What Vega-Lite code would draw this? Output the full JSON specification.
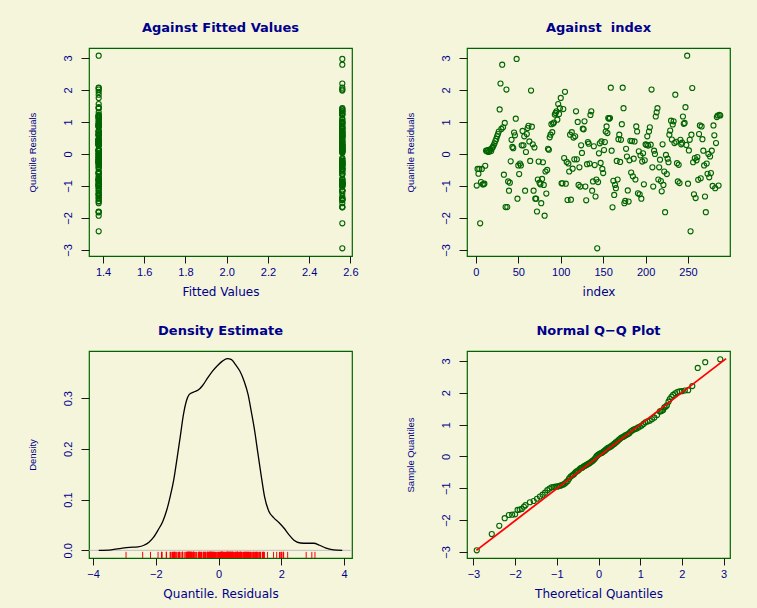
{
"$schema": "https://vega.github.io/schema/vega-lite/v6.json",
"background": "#F5F5DC",
"padding": {"left": 26, "top": 21, "right": 30, "bottom": 10},
"datasets": {
"res": [
{"i":1,"r":-0.99,"f":2.561},{"i":2,"r":-0.47,"f":2.561},{"i":3,"r":-0.62,"f":2.561},{"i":4,"r":-0.47,"f":2.561},{"i":5,"r":-2.17,"f":2.561},{"i":6,"r":-0.88,"f":2.561},{"i":7,"r":-0.47,"f":2.561},{"i":8,"r":-0.95,"f":2.561},{"i":9,"r":-0.95,"f":2.561},{"i":10,"r":-0.93,"f":2.561},
{"i":11,"r":-0.37,"f":2.561},{"i":12,"r":0.10,"f":2.561},{"i":13,"r":0.08,"f":2.561},{"i":14,"r":0.12,"f":2.561},{"i":15,"r":0.06,"f":2.561},{"i":16,"r":0.10,"f":2.561},{"i":17,"r":0.14,"f":2.561},{"i":18,"r":0.09,"f":2.561},{"i":19,"r":0.18,"f":2.561},{"i":20,"r":0.22,"f":2.561},
{"i":21,"r":0.27,"f":2.561},{"i":22,"r":0.33,"f":2.561},{"i":23,"r":0.40,"f":2.561},{"i":24,"r":0.47,"f":2.561},{"i":25,"r":0.55,"f":2.561},{"i":26,"r":0.62,"f":2.561},{"i":27,"r":0.70,"f":2.561},{"i":28,"r":1.39,"f":2.561},{"i":29,"r":2.20,"f":2.561},{"i":30,"r":0.78,"f":2.561},
{"i":31,"r":2.79,"f":2.561},{"i":32,"r":0.83,"f":2.561},{"i":33,"r":-0.65,"f":2.561},{"i":34,"r":0.97,"f":2.561},{"i":35,"r":-1.66,"f":2.561},{"i":36,"r":2.01,"f":2.561},{"i":37,"r":-1.66,"f":2.561},{"i":38,"r":-0.86,"f":2.561},{"i":39,"r":-1.15,"f":2.561},{"i":40,"r":-0.90,"f":2.561},
{"i":41,"r":-0.23,"f":2.561},{"i":42,"r":0.44,"f":2.561},{"i":43,"r":0.22,"f":2.561},{"i":44,"r":0.18,"f":2.561},{"i":45,"r":0.67,"f":2.561},{"i":46,"r":0.58,"f":2.561},{"i":47,"r":1.10,"f":2.561},{"i":48,"r":2.97,"f":2.561},{"i":49,"r":-1.40,"f":2.561},{"i":50,"r":-0.36,"f":2.561},
{"i":51,"r":-0.63,"f":2.561},{"i":52,"r":-0.30,"f":2.561},{"i":53,"r":-0.36,"f":2.561},{"i":54,"r":0.27,"f":2.561},{"i":55,"r":0.72,"f":2.561},{"i":56,"r":0.27,"f":2.561},{"i":57,"r":0.55,"f":2.561},{"i":58,"r":-1.15,"f":2.561},{"i":59,"r":0.06,"f":2.561},{"i":60,"r":0.62,"f":2.561},
{"i":61,"r":0.81,"f":2.561},{"i":62,"r":0.88,"f":2.561},{"i":63,"r":0.39,"f":2.561},{"i":64,"r":-0.22,"f":2.561},{"i":65,"r":1.98,"f":2.561},{"i":66,"r":0.85,"f":2.561},{"i":67,"r":0.30,"f":2.561},{"i":68,"r":-1.15,"f":2.561},{"i":69,"r":0.20,"f":2.561},{"i":70,"r":-1.40,"f":2.561},
{"i":71,"r":-1.40,"f":2.561},{"i":72,"r":-1.80,"f":1.379},{"i":73,"r":-0.80,"f":2.561},{"i":74,"r":-0.24,"f":2.561},{"i":75,"r":-0.90,"f":2.561},{"i":76,"r":-0.95,"f":2.561},{"i":77,"r":-1.54,"f":2.561},{"i":78,"r":-0.78,"f":2.561},{"i":79,"r":-0.26,"f":2.561},{"i":80,"r":-0.97,"f":2.561},
{"i":81,"r":-1.93,"f":1.379},{"i":82,"r":-0.55,"f":2.561},{"i":83,"r":-1.24,"f":2.561},{"i":84,"r":-0.50,"f":2.561},{"i":85,"r":0.16,"f":2.561},{"i":86,"r":0.13,"f":2.561},{"i":87,"r":0.52,"f":2.561},{"i":88,"r":0.60,"f":2.561},{"i":89,"r":0.93,"f":2.561},{"i":90,"r":0.68,"f":2.561},
{"i":91,"r":0.95,"f":2.561},{"i":92,"r":0.98,"f":2.561},{"i":93,"r":1.23,"f":2.561},{"i":94,"r":1.28,"f":2.561},{"i":95,"r":1.33,"f":2.561},{"i":96,"r":1.07,"f":2.561},{"i":97,"r":1.56,"f":1.379},{"i":98,"r":1.25,"f":2.561},{"i":99,"r":1.43,"f":2.561},{"i":100,"r":1.75,"f":1.379},
{"i":101,"r":-0.92,"f":2.561},{"i":102,"r":-0.92,"f":2.561},{"i":103,"r":1.40,"f":2.561},{"i":104,"r":-0.13,"f":2.561},{"i":105,"r":1.94,"f":1.379},{"i":106,"r":-0.93,"f":2.561},{"i":107,"r":-0.25,"f":2.561},{"i":108,"r":-1.44,"f":2.561},{"i":109,"r":-0.30,"f":2.561},{"i":110,"r":-0.55,"f":2.561},
{"i":111,"r":0.60,"f":2.561},{"i":112,"r":-1.43,"f":2.561},{"i":113,"r":0.68,"f":2.561},{"i":114,"r":-0.46,"f":2.561},{"i":115,"r":0.51,"f":2.561},{"i":116,"r":-0.17,"f":2.561},{"i":117,"r":0.55,"f":2.561},{"i":118,"r":1.33,"f":2.561},{"i":119,"r":-0.17,"f":2.561},{"i":120,"r":1.00,"f":2.561},
{"i":121,"r":-0.97,"f":2.561},{"i":122,"r":-0.42,"f":2.561},{"i":123,"r":-1.02,"f":2.561},{"i":124,"r":0.27,"f":2.561},{"i":125,"r":0.03,"f":2.561},{"i":126,"r":0.79,"f":2.561},{"i":127,"r":0.77,"f":2.561},{"i":128,"r":1.02,"f":2.561},{"i":129,"r":-1.02,"f":2.561},{"i":130,"r":-1.45,"f":2.561},
{"i":131,"r":-0.32,"f":2.561},{"i":132,"r":0.37,"f":2.561},{"i":133,"r":0.32,"f":2.561},{"i":134,"r":-0.30,"f":2.561},{"i":135,"r":1.22,"f":2.561},{"i":136,"r":1.33,"f":2.561},{"i":137,"r":-1.15,"f":2.561},{"i":138,"r":-0.86,"f":2.561},{"i":139,"r":0.24,"f":2.561},{"i":140,"r":-0.35,"f":2.561},
{"i":141,"r":-1.33,"f":2.561},{"i":142,"r":-0.80,"f":2.561},{"i":143,"r":-2.95,"f":2.561},{"i":144,"r":-0.88,"f":2.561},{"i":145,"r":0.02,"f":1.379},{"i":146,"r":0.33,"f":1.379},{"i":147,"r":-0.28,"f":1.379},{"i":148,"r":0.39,"f":1.379},{"i":149,"r":-0.47,"f":1.379},{"i":150,"r":-0.60,"f":1.379},
{"i":151,"r":0.12,"f":1.379},{"i":152,"r":0.37,"f":1.379},{"i":153,"r":0.70,"f":1.379},{"i":154,"r":0.86,"f":1.379},{"i":155,"r":0.65,"f":1.379},{"i":156,"r":1.12,"f":1.379},{"i":157,"r":1.10,"f":1.379},{"i":158,"r":1.12,"f":1.379},{"i":159,"r":2.07,"f":2.561},{"i":160,"r":0.10,"f":1.379},
{"i":161,"r":-1.67,"f":2.561},{"i":162,"r":-0.84,"f":1.379},{"i":163,"r":-1.28,"f":1.379},{"i":164,"r":-0.97,"f":1.379},{"i":165,"r":-1.07,"f":1.379},{"i":166,"r":-0.22,"f":1.379},{"i":167,"r":-0.80,"f":1.379},{"i":168,"r":0.46,"f":1.379},{"i":169,"r":0.60,"f":1.379},{"i":170,"r":-0.25,"f":1.379},
{"i":171,"r":0.44,"f":1.379},{"i":172,"r":0.93,"f":1.379},{"i":173,"r":2.07,"f":1.379},{"i":174,"r":1.43,"f":1.379},{"i":175,"r":-1.54,"f":1.379},{"i":176,"r":-1.47,"f":1.379},{"i":177,"r":0.16,"f":1.379},{"i":178,"r":-0.08,"f":1.379},{"i":179,"r":-1.14,"f":1.379},{"i":180,"r":-1.49,"f":1.379},
{"i":181,"r":-0.20,"f":1.379},{"i":182,"r":0.41,"f":1.379},{"i":183,"r":-0.58,"f":1.379},{"i":184,"r":0.40,"f":1.379},{"i":185,"r":-0.70,"f":1.379},{"i":186,"r":-0.15,"f":1.379},{"i":187,"r":0.39,"f":1.379},{"i":188,"r":-0.80,"f":1.379},{"i":189,"r":0.86,"f":1.379},{"i":190,"r":0.70,"f":1.379},
{"i":191,"r":-1.23,"f":1.379},{"i":192,"r":0.08,"f":1.379},{"i":193,"r":-1.26,"f":1.379},{"i":194,"r":-0.05,"f":1.379},{"i":195,"r":-1.40,"f":1.379},{"i":196,"r":-0.24,"f":1.379},{"i":197,"r":0.02,"f":1.379},{"i":198,"r":-0.95,"f":1.379},{"i":199,"r":-0.20,"f":1.379},{"i":200,"r":0.30,"f":1.379},
{"i":201,"r":0.28,"f":1.379},{"i":202,"r":0.55,"f":1.379},{"i":203,"r":0.26,"f":1.379},{"i":204,"r":0.70,"f":1.379},{"i":205,"r":0.83,"f":1.379},{"i":206,"r":0.29,"f":1.379},{"i":207,"r":2.01,"f":1.379},{"i":208,"r":-0.42,"f":1.379},{"i":209,"r":-1.02,"f":1.379},{"i":210,"r":0.10,"f":1.379},
{"i":211,"r":0.00,"f":1.379},{"i":212,"r":1.17,"f":1.379},{"i":213,"r":1.30,"f":1.379},{"i":214,"r":1.43,"f":1.379},{"i":215,"r":-0.80,"f":1.379},{"i":216,"r":-0.42,"f":1.379},{"i":217,"r":-0.18,"f":1.379},{"i":218,"r":-0.85,"f":1.379},{"i":219,"r":-1.17,"f":1.379},{"i":220,"r":0.30,"f":1.379},
{"i":221,"r":-0.97,"f":1.379},{"i":222,"r":-0.55,"f":1.379},{"i":223,"r":-1.82,"f":1.379},{"i":224,"r":-0.03,"f":1.379},{"i":225,"r":-0.63,"f":1.379},{"i":226,"r":-0.15,"f":1.379},{"i":227,"r":-0.26,"f":1.379},{"i":228,"r":0.60,"f":1.379},{"i":229,"r":0.73,"f":1.379},{"i":230,"r":1.04,"f":1.379},
{"i":231,"r":0.45,"f":1.379},{"i":232,"r":0.92,"f":1.379},{"i":233,"r":1.02,"f":1.379},{"i":234,"r":0.34,"f":1.379},{"i":235,"r":1.85,"f":1.379},{"i":236,"r":0.38,"f":1.379},{"i":237,"r":-0.29,"f":1.379},{"i":238,"r":-0.86,"f":1.379},{"i":239,"r":-0.34,"f":1.379},{"i":240,"r":-0.91,"f":1.379},
{"i":241,"r":0.44,"f":1.379},{"i":242,"r":0.30,"f":1.379},{"i":243,"r":0.35,"f":1.379},{"i":244,"r":1.17,"f":1.379},{"i":245,"r":0.94,"f":1.379},{"i":246,"r":0.97,"f":1.379},{"i":247,"r":1.46,"f":1.379},{"i":248,"r":0.28,"f":1.379},{"i":249,"r":3.07,"f":1.379},{"i":250,"r":-0.93,"f":1.379},
{"i":251,"r":0.11,"f":1.379},{"i":252,"r":0.44,"f":1.379},{"i":253,"r":-2.42,"f":1.379},{"i":254,"r":0.60,"f":1.379},{"i":255,"r":2.06,"f":1.379},{"i":256,"r":-0.26,"f":1.379},{"i":257,"r":-1.26,"f":1.379},{"i":258,"r":-0.13,"f":1.379},{"i":259,"r":-1.38,"f":1.379},{"i":260,"r":-0.20,"f":1.379},
{"i":261,"r":-0.10,"f":1.379},{"i":262,"r":-0.81,"f":1.379},{"i":263,"r":0.62,"f":1.379},{"i":264,"r":0.89,"f":1.379},{"i":265,"r":-0.76,"f":1.379},{"i":266,"r":0.86,"f":1.379},{"i":267,"r":0.46,"f":1.379},{"i":268,"r":0.10,"f":1.379},{"i":269,"r":-0.36,"f":1.379},{"i":270,"r":-1.33,"f":1.379},
{"i":271,"r":-1.82,"f":1.379},{"i":272,"r":-0.30,"f":1.379},{"i":273,"r":-0.62,"f":1.379},{"i":274,"r":0.00,"f":1.379},{"i":275,"r":-0.73,"f":1.379},{"i":276,"r":-0.08,"f":1.379},{"i":277,"r":-0.60,"f":1.379},{"i":278,"r":0.10,"f":1.379},{"i":279,"r":-1.00,"f":1.379},{"i":280,"r":0.89,"f":1.379},
{"i":281,"r":0.58,"f":1.379},{"i":282,"r":-1.07,"f":1.379},{"i":283,"r":0.34,"f":1.379},{"i":284,"r":1.15,"f":1.379},{"i":285,"r":1.20,"f":1.379},{"i":286,"r":-0.99,"f":1.379},{"i":287,"r":1.22,"f":1.379},{"i":288,"r":1.20,"f":1.379}
],
"dens": [
{"x":-3.82,"d":0.000},{"x":-3.42,"d":0.001},{"x":-3.10,"d":0.004},{"x":-2.84,"d":0.006},{"x":-2.57,"d":0.007},{"x":-2.38,"d":0.010},{"x":-2.22,"d":0.016},{"x":-2.07,"d":0.026},{"x":-1.92,"d":0.041},{"x":-1.78,"d":0.057},{"x":-1.65,"d":0.080},{"x":-1.54,"d":0.107},{"x":-1.43,"d":0.139},{"x":-1.33,"d":0.179},{"x":-1.22,"d":0.225},{"x":-1.12,"d":0.268},{"x":-1.03,"d":0.294},{"x":-0.94,"d":0.307},{"x":-0.80,"d":0.312},{"x":-0.65,"d":0.316},{"x":-0.51,"d":0.325},{"x":-0.35,"d":0.340},{"x":-0.20,"d":0.353},{"x":-0.04,"d":0.364},{"x":0.12,"d":0.373},{"x":0.28,"d":0.378},{"x":0.41,"d":0.376},{"x":0.54,"d":0.366},{"x":0.68,"d":0.353},{"x":0.81,"d":0.334},{"x":0.94,"d":0.307},{"x":1.04,"d":0.274},{"x":1.15,"d":0.235},{"x":1.25,"d":0.192},{"x":1.36,"d":0.146},{"x":1.46,"d":0.107},{"x":1.60,"d":0.077},{"x":1.76,"d":0.064},{"x":1.92,"d":0.055},{"x":2.08,"d":0.044},{"x":2.24,"d":0.031},{"x":2.40,"d":0.020},{"x":2.61,"d":0.0145},{"x":2.82,"d":0.014},{"x":3.03,"d":0.014},{"x":3.22,"d":0.010},{"x":3.40,"d":0.005},{"x":3.66,"d":0.001},{"x":3.94,"d":0.000}
],
"qq": [
{"t":-2.92,"s":-2.95},{"t":-2.56,"s":-2.44},{"t":-2.38,"s":-2.18},{"t":-2.25,"s":-1.94},{"t":-2.15,"s":-1.84},{"t":-2.07,"s":-1.83},{"t":-2.00,"s":-1.82},{"t":-1.94,"s":-1.68},{"t":-1.89,"s":-1.67},{"t":-1.84,"s":-1.65},{"t":-1.79,"s":-1.58},
{"t":-1.751,"s":-1.53},{"t":-1.645,"s":-1.44},{"t":-1.555,"s":-1.40},{"t":-1.476,"s":-1.33},{"t":-1.405,"s":-1.26},{"t":-1.341,"s":-1.20},{"t":-1.282,"s":-1.14},{"t":-1.227,"s":-1.06},{"t":-1.175,"s":-1.01},{"t":-1.126,"s":-0.97},{"t":-1.080,"s":-0.96},{"t":-1.036,"s":-0.95},{"t":-0.994,"s":-0.95},{"t":-0.954,"s":-0.93},{"t":-0.915,"s":-0.92},{"t":-0.878,"s":-0.90},{"t":-0.842,"s":-0.88},{"t":-0.806,"s":-0.85},{"t":-0.772,"s":-0.81},{"t":-0.739,"s":-0.77},{"t":-0.706,"s":-0.70},{"t":-0.674,"s":-0.64},{"t":-0.643,"s":-0.61},{"t":-0.613,"s":-0.58},{"t":-0.583,"s":-0.55},{"t":-0.553,"s":-0.50},{"t":-0.524,"s":-0.47},{"t":-0.496,"s":-0.45},{"t":-0.468,"s":-0.42},{"t":-0.440,"s":-0.38},{"t":-0.412,"s":-0.36},{"t":-0.385,"s":-0.35},{"t":-0.358,"s":-0.32},{"t":-0.332,"s":-0.30},{"t":-0.305,"s":-0.28},{"t":-0.279,"s":-0.26},{"t":-0.253,"s":-0.24},{"t":-0.228,"s":-0.22},{"t":-0.202,"s":-0.20},{"t":-0.176,"s":-0.17},{"t":-0.151,"s":-0.15},{"t":-0.126,"s":-0.12},{"t":-0.100,"s":-0.09},{"t":-0.075,"s":-0.05},{"t":-0.050,"s":0.00},{"t":-0.025,"s":0.03},
{"t":0.000,"s":0.06},{"t":0.025,"s":0.08},{"t":0.050,"s":0.10},{"t":0.075,"s":0.11},{"t":0.100,"s":0.13},{"t":0.126,"s":0.16},{"t":0.151,"s":0.18},{"t":0.176,"s":0.21},{"t":0.202,"s":0.24},{"t":0.228,"s":0.27},{"t":0.253,"s":0.28},{"t":0.279,"s":0.30},{"t":0.305,"s":0.32},{"t":0.332,"s":0.35},{"t":0.358,"s":0.38},{"t":0.385,"s":0.40},{"t":0.412,"s":0.44},{"t":0.440,"s":0.46},{"t":0.468,"s":0.50},{"t":0.496,"s":0.53},{"t":0.524,"s":0.56},{"t":0.553,"s":0.59},{"t":0.583,"s":0.61},{"t":0.613,"s":0.63},{"t":0.643,"s":0.66},{"t":0.674,"s":0.68},{"t":0.706,"s":0.70},{"t":0.739,"s":0.73},{"t":0.772,"s":0.78},{"t":0.806,"s":0.81},{"t":0.842,"s":0.84},{"t":0.878,"s":0.86},{"t":0.915,"s":0.88},{"t":0.954,"s":0.91},{"t":0.994,"s":0.94},{"t":1.036,"s":0.97},{"t":1.080,"s":1.02},{"t":1.126,"s":1.07},{"t":1.175,"s":1.10},{"t":1.227,"s":1.12},{"t":1.282,"s":1.17},{"t":1.341,"s":1.22},{"t":1.405,"s":1.30},
{"t":1.47,"s":1.41},{"t":1.49,"s":1.42},{"t":1.52,"s":1.43},{"t":1.55,"s":1.46},{"t":1.58,"s":1.54},{"t":1.61,"s":1.56},{"t":1.64,"s":1.60},{"t":1.68,"s":1.72},{"t":1.71,"s":1.80},{"t":1.75,"s":1.87},{"t":1.79,"s":1.93},{"t":1.84,"s":1.98},{"t":1.89,"s":2.02},{"t":1.94,"s":2.04},{"t":2.00,"s":2.05},{"t":2.07,"s":2.07},{"t":2.15,"s":2.08},{"t":2.25,"s":2.21},{"t":2.38,"s":2.78},{"t":2.56,"s":2.96},{"t":2.92,"s":3.05}
],
"qqline": [{"t":-2.93,"s":-2.95},{"t":3.06,"s":3.07}]
},
"columns": 2,
"spacing": {"row": 95, "column": 115},
"bounds": "flush",
"concat": [
{
"title": "Against Fitted Values",
"width": 263, "height": 208,
"data": {"name": "res"},
"mark": {"type": "point", "shape": "circle", "filled": false, "color": "#006400", "size": 26, "strokeWidth": 1.1, "opacity": 1},
"encoding": {
"x": {"field": "f", "type": "quantitative", "title": "Fitted Values", "scale": {"domain": [1.332, 2.608], "nice": false, "zero": false}, "axis": {"values": [1.4, 1.6, 1.8, 2.0, 2.2, 2.4, 2.6], "format": ".1f"}},
"y": {"field": "r", "type": "quantitative", "title": "Quantile Residuals", "scale": {"domain": [-3.19, 3.31], "nice": false, "zero": false}, "axis": {"values": [-3, -2, -1, 0, 1, 2, 3], "labelOverlap": false}}
}
},
{
"title": "Against \u00a0index",
"width": 263, "height": 208,
"data": {"name": "res"},
"mark": {"type": "point", "shape": "circle", "filled": false, "color": "#006400", "size": 26, "strokeWidth": 1.1, "opacity": 1},
"encoding": {
"x": {"field": "i", "type": "quantitative", "title": "index", "scale": {"domain": [-10.48, 299.48], "nice": false, "zero": false}, "axis": {"values": [0, 50, 100, 150, 200, 250]}},
"y": {"field": "r", "type": "quantitative", "title": "Quantile Residuals", "scale": {"domain": [-3.19, 3.31], "nice": false, "zero": false}, "axis": {"values": [-3, -2, -1, 0, 1, 2, 3], "labelOverlap": false}}
}
},
{
"title": "Density Estimate",
"width": 263, "height": 207,
"layer": [
{
"data": {"values": [{}]},
"mark": {"type": "rule", "color": "#BEBEBE", "strokeWidth": 1},
"encoding": {"y": {"datum": 0, "type": "quantitative"}}
},
{
"data": {"name": "dens"},
"mark": {"type": "line", "color": "black", "strokeWidth": 1.3, "interpolate": "monotone"},
"encoding": {
"x": {"field": "x", "type": "quantitative", "title": "Quantile. Residuals", "scale": {"domain": [-4.13, 4.25], "nice": false, "zero": false}, "axis": {"values": [-4, -2, 0, 2, 4]}},
"y": {"field": "d", "type": "quantitative", "title": "Density", "scale": {"domain": [-0.0151, 0.393], "nice": false, "zero": false}, "axis": {"values": [0, 0.1, 0.2, 0.3], "format": ".1f", "labelOverlap": false}}
}
},
{
"data": {"name": "res"},
"mark": {"type": "rule", "color": "red", "strokeWidth": 1},
"encoding": {
"x": {"field": "r", "type": "quantitative", "title": "Quantile. Residuals"},
"y": {"datum": -0.0151, "type": "quantitative"},
"y2": {"datum": -0.003}
}
}
]
},
{
"title": "Normal Q\u2212Q Plot",
"width": 263, "height": 207,
"layer": [
{
"data": {"name": "qq"},
"mark": {"type": "point", "shape": "circle", "filled": false, "color": "#006400", "size": 26, "strokeWidth": 1.1, "opacity": 1},
"encoding": {
"x": {"field": "t", "type": "quantitative", "title": "Theoretical Quantiles", "scale": {"domain": [-3.154, 3.154], "nice": false, "zero": false}, "axis": {"values": [-3, -2, -1, 0, 1, 2, 3]}},
"y": {"field": "s", "type": "quantitative", "title": "Sample Quantiles", "scale": {"domain": [-3.19, 3.31], "nice": false, "zero": false}, "axis": {"values": [-3, -2, -1, 0, 1, 2, 3], "labelOverlap": false}}
}
},
{
"data": {"name": "qqline"},
"mark": {"type": "line", "color": "red", "strokeWidth": 1.8},
"encoding": {
"x": {"field": "t", "type": "quantitative", "title": "Theoretical Quantiles"},
"y": {"field": "s", "type": "quantitative", "title": "Sample Quantiles", "axis": {"values": [-3, -2, -1, 0, 1, 2, 3], "labelOverlap": false}}
}
}
]
}
],
"config": {
"view": {"stroke": "#006400", "strokeWidth": 1.2, "fill": null},
"title": {"font": "DejaVu Sans", "fontSize": 13, "fontWeight": "bold", "color": "#00008B", "anchor": "middle", "frame": "group", "offset": 13, "baseline": "alphabetic"},
"axis": {"grid": false, "domain": false, "tickColor": "#1a1a1a", "tickWidth": 1, "labelColor": "#00008B", "titleColor": "#00008B", "titleFontWeight": "normal", "labelOverlap": false, "labelFlush": false, "labelBound": false},
"axisX": {"tickSize": 7, "labelFont": "Liberation Sans", "labelFontSize": 11, "labelPadding": 3, "titleFont": "DejaVu Sans", "titleFontSize": 12, "titlePadding": 9},
"axisY": {"tickSize": 8, "labelAngle": -90, "labelAlign": "center", "labelBaseline": "bottom", "labelFont": "Liberation Sans", "labelFontSize": 11, "labelPadding": 8, "titleFont": "Liberation Sans", "titleFontSize": 9.5, "titlePadding": 25}
}
}
